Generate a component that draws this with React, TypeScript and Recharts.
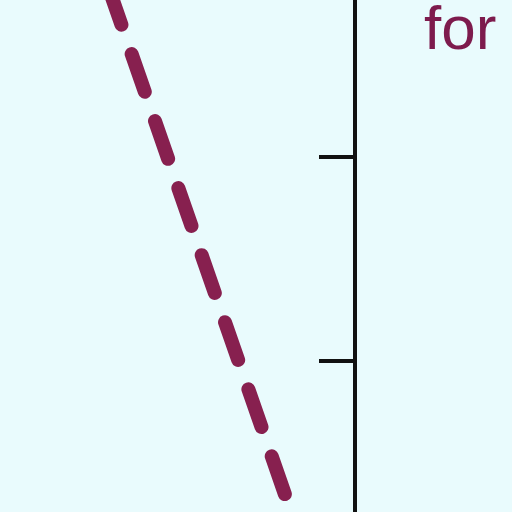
import React from 'react';
import { LineChart, Line, XAxis, YAxis } from 'recharts';

// visible slice of the trend line (chart units)
const trendX = [1.08, 3.07];
const trendY = [3.834, 1.024];
const yTicks = [2, 3];
const xDomain = [0, 3.54];
const yDomain = [1.26, 3.77];
const caption = 'for';

const data = trendX.map((x, i) => ({ x, y: trendY[i] }));

const BG = '#e9fbfd';
const MAROON = '#87204f';

export default function App() {
  return (
    <div style={{ position: 'absolute', left: 0, top: 0, width: 512, height: 512, background: BG, overflow: 'hidden' }}>
      <LineChart width={512} height={512} data={data} margin={{ top: 0, right: 157, left: 0, bottom: 0 }}>
        <XAxis type="number" dataKey="x" domain={xDomain} allowDataOverflow hide />
        <YAxis
          type="number"
          orientation="right"
          mirror
          width={1}
          domain={yDomain}
          ticks={yTicks}
          allowDataOverflow
          tickFormatter={() => ''}
          tickSize={36}
          axisLine={{ stroke: '#111', strokeWidth: 4 }}
          tickLine={{ stroke: '#111', strokeWidth: 4 }}
        />
        <Line
          type="linear"
          dataKey="y"
          stroke={MAROON}
          strokeWidth={14}
          strokeDasharray="40 31"
          strokeLinecap="round"
          dot={false}
          isAnimationActive={false}
        />
      </LineChart>
      <div
        style={{
          position: 'absolute',
          left: 424,
          top: -7,
          fontFamily: '"Liberation Sans", Arial, sans-serif',
          fontSize: 62,
          lineHeight: '70px',
          color: '#7d1b4d',
        }}
      >
        {caption}
      </div>
    </div>
  );
}
